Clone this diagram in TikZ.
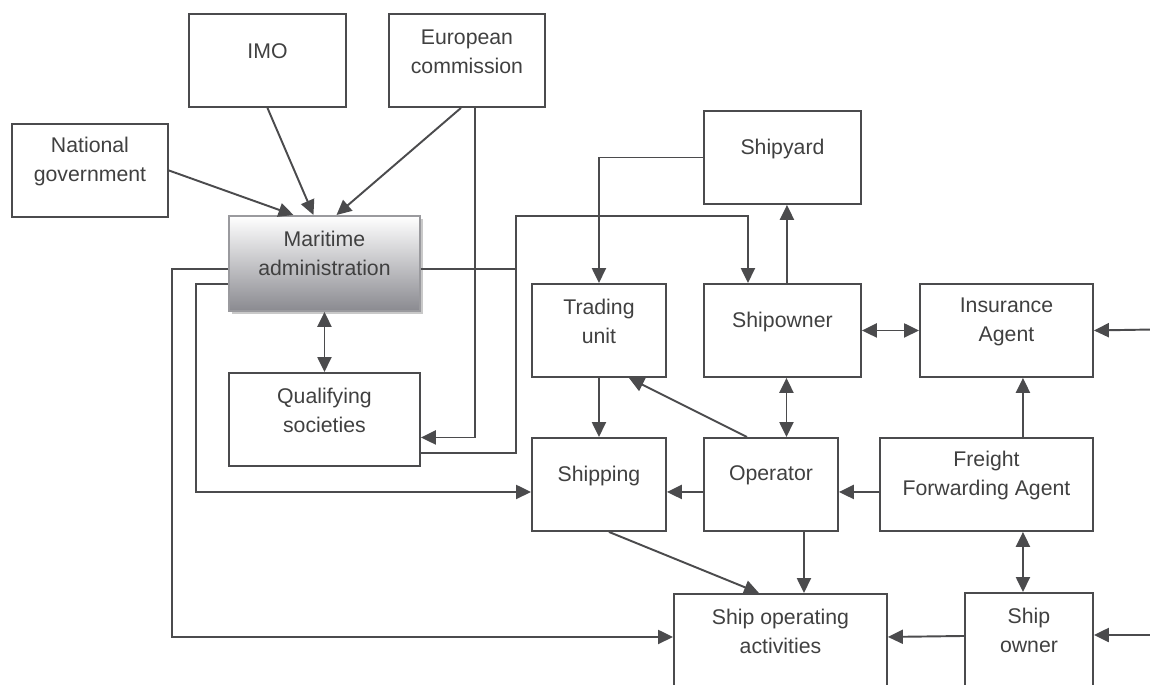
\documentclass[tikz,border=0pt]{standalone}
\usepackage{fontspec}
\setmainfont{Liberation Sans}
\usetikzlibrary{arrows.meta,shadows,positioning}
\newlength\pxu
\setlength\pxu{0.02cm}
\definecolor{linec}{HTML}{4B4B4D}
\definecolor{txtc}{HTML}{404040}
\definecolor{admbot}{HTML}{8A8A90}
\definecolor{admline}{HTML}{9A9A9E}
\tikzset{
  box/.style={draw=linec, line width=1.1pt, anchor=north west, inner sep=0pt,
    minimum height=93\pxu, minimum width=#1\pxu},
  txt/.style={anchor=center, yshift=-38.5\pxu, align=center, inner sep=0pt,
    text=txtc, font=\fontsize{12.1}{16.4}\selectfont},
  conn/.style={draw=linec, line width=1.1pt},
  arr/.style={conn, -{Triangle[length=8.5pt,width=8pt]}},
  biarr/.style={conn, {Triangle[length=8.5pt,width=8pt]}-{Triangle[length=8.5pt,width=8pt]}},
}
\begin{document}
\begin{tikzpicture}[x=0.02cm, y=-0.02cm]
\clip (0,0) rectangle (1150,684);
\node[box=156, label={[txt]north:National\\government}] (natgov) at (11,123) {};
\node[box=157, label={[txt]north:IMO}] (imo) at (188,13) {};
\node[box=156, label={[txt]north:European\\commission}] (eucom) at (388,13) {};
\node[box=191, minimum height=95\pxu, draw=admline, top color=white, bottom color=admbot,
  drop shadow={shadow xshift=3\pxu, shadow yshift=-3\pxu, fill=black!30, opacity=0.7},
  label={[txt]north:Maritime\\administration}] (maradm) at (228,215) {};
\node[box=191, label={[txt]north:Qualifying\\societies}] (qualsoc) at (228,372) {};
\node[box=157, label={[txt]north:Shipyard}] (shipyard) at (703,110) {};
\node[box=134, label={[txt]north:Trading\\unit}] (trading) at (531,283) {};
\node[box=157, label={[txt]north:Shipowner}] (shipowner) at (703,283) {};
\node[box=173, label={[txt]north:Insurance\\Agent}] (insurance) at (919,283) {};
\node[box=134, label={[txt]north:Shipping}] (shipping) at (531,437) {};
\node[box=134, label={[txt]north:Operator}] (operator) at (703,437) {};
\node[box=213, label={[txt]north:Freight\\Forwarding Agent}] (ffa) at (879,437) {};
\node[box=213, label={[txt]north:Ship operating\\activities}] (shipact) at (673,593) {};
\node[box=128, label={[txt]north:Ship\\owner}] (shipown) at (964,592) {};
\coordinate (bus) at (516,216);
\coordinate (insin) at (1152,329.5);
\coordinate (sownin) at (1152,635);

\draw[arr] (natgov.east) -- ([xshift=-31\pxu]maradm.north);
\draw[arr] (imo.south) -- ([xshift=-11\pxu]maradm.north);
\draw[arr] ([xshift=-6\pxu]eucom.south) -- ([xshift=12\pxu]maradm.north);
\draw[arr] ([xshift=8\pxu]eucom.south) |- ([yshift=-18\pxu]qualsoc.east);
\draw[biarr] (maradm.south) -- (qualsoc.north);
\draw[arr] ([yshift=-33.5\pxu]qualsoc.east) -| (bus) -| ([xshift=-34.5\pxu]shipowner.north);
\draw[conn] ([yshift=-5.5\pxu]maradm.east) -- ([yshift=-5.5\pxu]maradm.east -| bus);
\draw[arr] (shipyard.west) -| (trading.north);
\draw[arr] ([xshift=4.5\pxu]shipowner.north) -- ([xshift=4.5\pxu]shipyard.south);
\draw[biarr] (shipowner.east) -- (insurance.west);
\draw[arr] (insin) -- (insurance.east);
\draw[arr] (trading.south) -- (shipping.north);
\draw[arr] ([xshift=-24\pxu]operator.north) -- ([xshift=30\pxu]trading.south);
\draw[biarr] ([xshift=4\pxu]shipowner.south) -- ([xshift=4\pxu]shipowner.south |- operator.north);
\draw[arr] ([xshift=36.5\pxu]ffa.north) -- ([xshift=36.5\pxu]ffa.north |- insurance.south);
\draw[arr] ([yshift=-7.5\pxu]ffa.west) -- ([yshift=-7.5\pxu]operator.east);
\draw[arr] ([yshift=-7.5\pxu]operator.west) -- ([yshift=-7.5\pxu]shipping.east);
\draw[arr] ([yshift=-5.5\pxu]maradm.west) -- ++(-56,0) |- ([yshift=3.5\pxu]shipact.west);
\draw[arr] ([yshift=-20.5\pxu]maradm.west) -- ++(-32,0) |- ([yshift=-7.5\pxu]shipping.west);
\draw[arr] ([xshift=10\pxu]shipping.south) -- ([xshift=-21.5\pxu]shipact.north);
\draw[arr] ([xshift=33\pxu]operator.south) -- ([xshift=33\pxu]operator.south |- shipact.north);
\draw[biarr] ([xshift=36.5\pxu]ffa.south) -- ([xshift=36.5\pxu]ffa.south |- shipown.north);
\draw[arr] ([yshift=3.5\pxu]shipown.west) -- ([yshift=3.5\pxu]shipact.east);
\draw[arr] (sownin) -- (sownin -| shipown.east);
\end{tikzpicture}
\end{document}
